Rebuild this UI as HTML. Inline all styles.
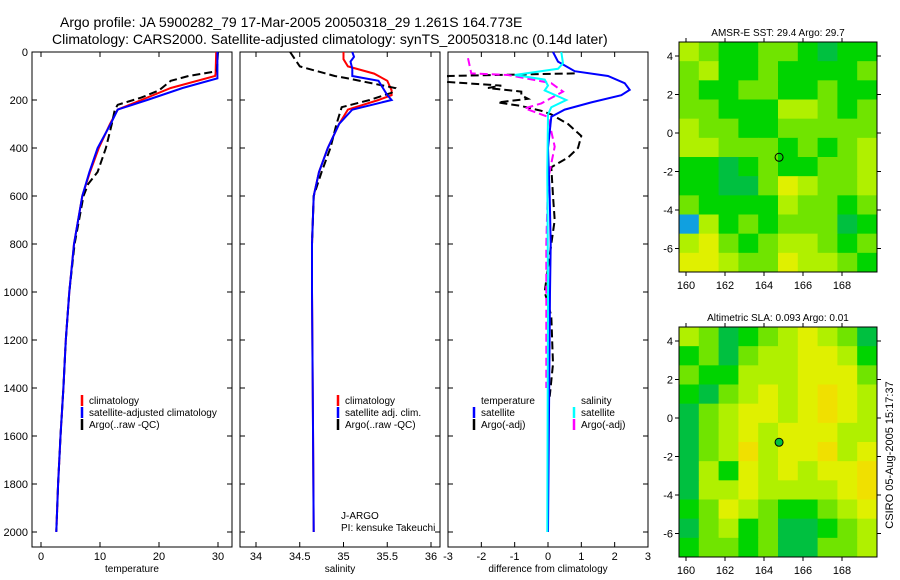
<!DOCTYPE html>
<html><head><meta charset="utf-8"><style>
body{margin:0;background:#fff;}
svg{display:block;font-family:"Liberation Sans",sans-serif;}
</style></head><body>
<svg id="c" width="900" height="580" viewBox="0 0 900 580" xmlns="http://www.w3.org/2000/svg">
<text x="60" y="27" font-size="14">Argo profile: JA 5900282_79 17-Mar-2005 20050318_29 1.261S 164.773E</text>
<text x="52" y="44" font-size="14">Climatology: CARS2000. Satellite-adjusted climatology: synTS_20050318.nc (0.14d later)</text>
<text transform="translate(893,455) rotate(-90)" text-anchor="middle" font-size="11">CSIRO 05-Aug-2005 15:17:37</text>
</svg>
<script>
// ---- data ----
const tClimDepth=[0,90,100,150,200,240,300,400,500,600,800,1000,1200,1400,1600,1800,2000];
const tClimVal=[29.7,29.6,29.5,22,17,13,11.7,9.8,8.3,7,5.6,4.8,4.2,3.8,3.3,2.9,2.6];
const tSatDepth=[0,110,150,200,240,300,400,500,600,800,1000,1200,1400,1600,1800,2000];
const tSatVal=[29.9,29.9,24,18,13,11.8,9.6,8.2,7,5.6,4.8,4.2,3.8,3.3,2.9,2.6];
const tArgoDepth=[0,80,100,120,160,190,220,240,300,400,500,550,600,800,1000,1200,1400,1600,1800,2000];
const tArgoVal=[30,29.8,25,22,20,17,13,12.5,12,11,9.6,8,7.2,5.7,4.8,4.2,3.8,3.3,2.9,2.6];
const sClimDepth=[0,30,60,90,120,160,180,200,240,300,400,500,600,800,1000,1500,2000];
const sClimVal=[35.0,35.0,35.05,35.35,35.5,35.55,35.55,35.4,35.05,34.95,34.82,34.72,34.66,34.64,34.64,34.65,34.66];
const sSatDepth=[0,20,40,70,100,120,150,180,200,240,300,400,500,600,800,1000,1500,2000];
const sSatVal=[35.1,35.12,35.08,35.1,35.1,35.4,35.45,35.5,35.55,35.1,34.95,34.82,34.72,34.66,34.64,34.64,34.65,34.66];
const sArgoDepth=[0,60,100,110,150,170,200,230,300,400,500,600,800,1000];
const sArgoVal=[34.39,34.5,34.9,35.05,35.59,35.55,35.3,34.98,34.92,34.85,34.75,34.66,34.64,34.64];
const dTSatDepth=[0,40,80,100,130,158,180,210,240,270,400,600,800,1000,1500,2000];
const dTSatVal=[0.15,0.3,0.8,1.8,2.3,2.45,2.2,1.3,0.5,0.1,0,0.05,0.08,0.06,0.03,0];
const dSSatDepth=[0,47,70,96,115,140,160,200,230,260,500,1000,2000];
const dSSatVal=[0.4,0.45,0.3,-1.0,-0.1,0.0,-0.1,0.55,0.1,0,-0.02,0,-0.02];
const dSArgoDepth=[26,89,96,130,165,214,235,270,394,533,800,1200,1400];
const dSArgoVal=[-2.4,-2.3,-1.2,0.1,0.45,-0.2,-0.7,0.0,0.2,0.0,-0.05,-0.05,-0.05];
const dTArgoDepth=[89,100,125,140,150,165,180,195,210,225,245,260,300,350,400,440,480,600,700,800,950,1000,1100,1300,1436];
const dTArgoVal=[0.8,-3,-3,-1.4,-1.8,-0.8,-0.8,-0.6,-1.5,-0.8,-0.2,0.1,0.6,1.0,0.9,0.6,0.1,0.15,0.2,0.1,-0.05,-0.1,0.1,0.15,0.05];
const depthTicks=[0,200,400,600,800,1000,1200,1400,1600,1800,2000];
const tTicks=[0,10,20,30];
const sTicks=[34,34.5,35,35.5,36];
const dTicks=[-3,-2,-1,0,1,2,3];
const lonTicks=[160,162,164,166,168];
const latTicks=[4,2,0,-2,-4,-6];
const sstGrid=["6544554344","5644544445","5445544544","5544466545","6554455555","6655545456","4434544556","4433576556","5444465545","1645455534","6754566545","7765576654"];
const slaGrid=["6534567653","4535667764","5446667775","4356767876","3567767876","3567677766","3568677867","3647676778","3667666678","4576544567","3564533456","4554533556"];
// ---- helpers ----
const svg=document.getElementById('c');const NS='http://www.w3.org/2000/svg';
function mk(t,a,p){const e=document.createElementNS(NS,t);for(const k in a)e.setAttribute(k,a[k]);(p||svg).appendChild(e);return e;}
const yD=d=>52+d*0.24;
function panel(x0,x1,name,xs,ticks,lab,label,showY){
  const g=mk('g',{});
  
  
  const r=mk('rect',{x:x0,y:52,width:x1-x0,height:495,fill:'#fff',stroke:'#000','stroke-width':1},g);
  
  
  ticks.forEach(v=>{const x=xs(v);
    mk('line',{x1:x,x2:x,y1:547,y2:542,stroke:'#000'},g);mk('line',{x1:x,x2:x,y1:52,y2:57,stroke:'#000'},g);
    const t=mk('text',{x:x,y:560,'font-size':11,'text-anchor':'middle'},g);t.textContent=lab(v);
    
    });
  depthTicks.forEach(d=>{const y=yD(d);
    mk('line',{x1:x0,x2:x0+5,y1:y,y2:y,stroke:'#000'},g);mk('line',{x1:x1,x2:x1-5,y1:y,y2:y,stroke:'#000'},g);
    if(showY){const t=mk('text',{x:28,y:y+4,'font-size':11,'text-anchor':'end'},g);t.textContent=d;
    
    }});
  const t=mk('text',{x:(x0+x1)/2,y:572,'font-size':10,'text-anchor':'middle'},g);t.textContent=label;
  
  
}
function line(xs,depths,vals,color,w,dash,name){
  const pts=depths.map((d,i)=>xs(vals[i]).toFixed(1)+','+yD(d).toFixed(1)).join(' ');
  const p=mk('polyline',{points:pts,fill:'none',stroke:color,'stroke-width':w});
  if(dash)p.setAttribute('stroke-dasharray',dash);
  
  
}
function legend(x,y,items){
  items.forEach((it,i)=>{const yy=y+i*12;
    if(it[1]){const l=mk('line',{x1:x,x2:x,y1:yy-9,y2:yy+2,stroke:it[1],'stroke-width':2.5});
      
      }
    const t=mk('text',{x:x+7,y:yy,'font-size':10});t.textContent=it[0];
    
    });
}
// temperature
const xT=v=>41+v*5.9;
panel(32,232,'temperature-panel',xT,tTicks,v=>v,'temperature',true);
line(xT,tClimDepth,tClimVal,'#f00',2,null,'temp-climatology-line');
line(xT,tArgoDepth,tArgoVal,'#000',2,'8,4','temp-argo-line');
line(xT,tSatDepth,tSatVal,'#00f',2,null,'temp-satellite-line');
legend(82,404,[['climatology','#f00'],['satellite-adjusted climatology','#00f'],['Argo(..raw -QC)','#000']]);
// salinity
const xS=v=>256+(v-34)*87.5;
panel(240,440,'salinity-panel',xS,sTicks,v=>v,'salinity',false);
line(xS,sClimDepth,sClimVal,'#f00',2,null,'sal-climatology-line');
line(xS,sArgoDepth,sArgoVal,'#000',2,'8,4','sal-argo-line');
line(xS,sSatDepth,sSatVal,'#00f',2,null,'sal-satellite-line');
legend(338,404,[['climatology','#f00'],['satellite adj. clim.','#00f'],['Argo(..raw -QC)','#000']]);
legend(334,519,[['J-ARGO',null],['PI: kensuke Takeuchi',null]]);
// difference
const xDf=v=>548+v*33.33;
panel(448,648,'difference-panel',xDf,dTicks,v=>v,'difference from climatology',false);
line(xDf,dTArgoDepth,dTArgoVal,'#000',2,'8,4','temp-argo-diff-line');
line(xDf,dSArgoDepth,dSArgoVal,'#f0f',2,'8,4','sal-argo-diff-line');
line(xDf,dTSatDepth,dTSatVal,'#00f',2,null,'temp-satellite-diff-line');
line(xDf,dSSatDepth,dSSatVal,'#0ff',2,null,'sal-satellite-diff-line');
legend(474,404,[['temperature',null],['satellite','#00f'],['Argo(-adj)','#000']]);
legend(574,404,[['salinity',null],['satellite','#0ff'],['Argo(-adj)','#f0f']]);
// maps
const pal=['#2060ff','#10a0e0','#00b060','#00c040','#00d400','#70e400','#b0f000','#e0f000','#f0e000','#f0b000'];
function map(y0,grid,title,name,markerFill){
  const x0=679,w=198,h=230;
  const g=mk('g',{});
  
  
  const rows=grid.length,cols=grid[0].length;
  grid.forEach((row,r)=>{[...row].forEach((c,k)=>{
    const cell=mk('rect',{x:x0+k*w/cols,y:y0+r*h/rows,width:w/cols+0.5,height:h/rows+0.5,fill:pal[+c]},g);
    
    });});
  const fr=mk('rect',{x:x0,y:y0,width:w,height:h,fill:'none',stroke:'#000'},g);
  
  
  const lx=v=>686+(v-160)*19.5, ly=v=>y0+14+(4-v)*19.25;
  lonTicks.forEach(v=>{const x=lx(v);mk('line',{x1:x,x2:x,y1:y0,y2:y0-4,stroke:'#000'},g);mk('line',{x1:x,x2:x,y1:y0+h,y2:y0+h+4,stroke:'#000'},g);
    const t=mk('text',{x:x,y:y0+h+17,'font-size':11,'text-anchor':'middle'},g);t.textContent=v;
    
    });
  latTicks.forEach(v=>{const y=ly(v);mk('line',{x1:x0,x2:x0-4,y1:y,y2:y,stroke:'#000'},g);mk('line',{x1:x0+w,x2:x0+w+4,y1:y,y2:y,stroke:'#000'},g);
    const t=mk('text',{x:673,y:y+4,'font-size':11,'text-anchor':'end'},g);t.textContent=v;
    
    });
  const m=mk('circle',{cx:lx(164.773),cy:ly(-1.261),r:4,fill:markerFill,stroke:'#000'},g);
  
  
  const t=mk('text',{x:x0+w/2,y:y0-6,'font-size':10,'text-anchor':'middle'},g);t.textContent=title;
  
  
}
map(42,sstGrid,'AMSR-E SST: 29.4 Argo: 29.7','sst-map','none');
map(327,slaGrid,'Altimetric SLA: 0.093 Argo: 0.01','sla-map','#00c040');
</script>
</body></html>
